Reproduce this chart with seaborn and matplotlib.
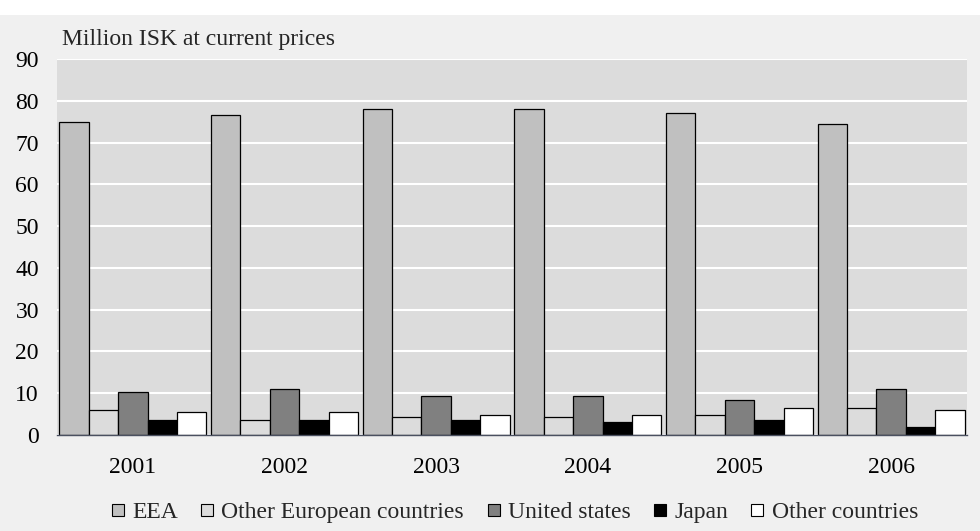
import pandas as pd
import matplotlib.pyplot as plt
import seaborn as sns
from matplotlib.patches import Rectangle
from matplotlib.lines import Line2D

# Data
years = ["2001", "2002", "2003", "2004", "2005", "2006"]
regions = ["EEA", "Other European countries", "United states", "Japan", "Other countries"]
eea = [75.0, 76.5, 78.0, 78.0, 77.0, 74.5]
other_europe = [6.0, 3.5, 4.4, 4.4, 4.9, 6.4]
united_states = [10.4, 10.9, 9.3, 9.3, 8.4, 10.9]
japan = [3.6, 3.6, 3.6, 3.0, 3.6, 2.0]
other_countries = [5.4, 5.4, 4.9, 4.9, 6.4, 5.9]
colors = ["#C0C0C0", "#DCDCDC", "#808080", "#000000", "#FFFFFF"]

series = [eea, other_europe, united_states, japan, other_countries]
rows = []
for reg, vals in zip(regions, series):
    for y, v in zip(years, vals):
        rows.append({"year": y, "region": reg, "value": v})
df = pd.DataFrame(rows)

sns.set_style("white")
plt.rcParams["font.family"] = ["Liberation Serif", "DejaVu Serif"]

fig = plt.figure(figsize=(9.8, 5.31), dpi=100, facecolor="white")
fig.patches.append(Rectangle((0, 0), 1, 1 - 15 / 531, transform=fig.transFigure,
                             facecolor="#F0F0F0", edgecolor="none", zorder=-10))
ax = fig.add_axes([57 / 980, 1 - 435 / 531, 910 / 980, 376 / 531])
ax.set_facecolor("#DCDCDC")

sns.barplot(data=df, x="year", y="value", hue="region", hue_order=regions,
            palette=colors, edgecolor="black", linewidth=0.9, width=0.97,
            gap=0, saturation=1, legend=False, ax=ax, zorder=3)

ax.set_ylim(0, 90)
ax.set_yticks(range(0, 91, 10))
ax.yaxis.grid(True, color="white", linewidth=1.5, zorder=0)
ax.set_axisbelow(True)
for s in ["top", "right", "left"]:
    ax.spines[s].set_visible(False)
ax.spines["bottom"].set_color("#4A5060")
ax.spines["bottom"].set_linewidth(1.0)
ax.spines["bottom"].set_zorder(5)
ax.tick_params(axis="both", length=0, labelsize=17, colors="black")
ax.tick_params(axis="x", pad=16)
ax.tick_params(axis="y", pad=13)
ax.set_xlabel("")
ax.set_ylabel("")

fig.text(62 / 980, 1 - 40 / 531, "Million ISK at current prices", fontsize=17,
         va="center", ha="left")

handles = [Line2D([], [], marker="s", linestyle="none", markersize=9,
                  markerfacecolor=c, markeredgecolor="black", markeredgewidth=0.8)
           for c in colors]
fig.legend(handles, regions, loc="center", bbox_to_anchor=(512 / 980, 1 - 512 / 531),
           ncol=5, frameon=False, fontsize=17, handletextpad=0.1,
           columnspacing=0.75, handlelength=1.0)

fig.savefig("out.png", dpi=100, facecolor=fig.get_facecolor())
